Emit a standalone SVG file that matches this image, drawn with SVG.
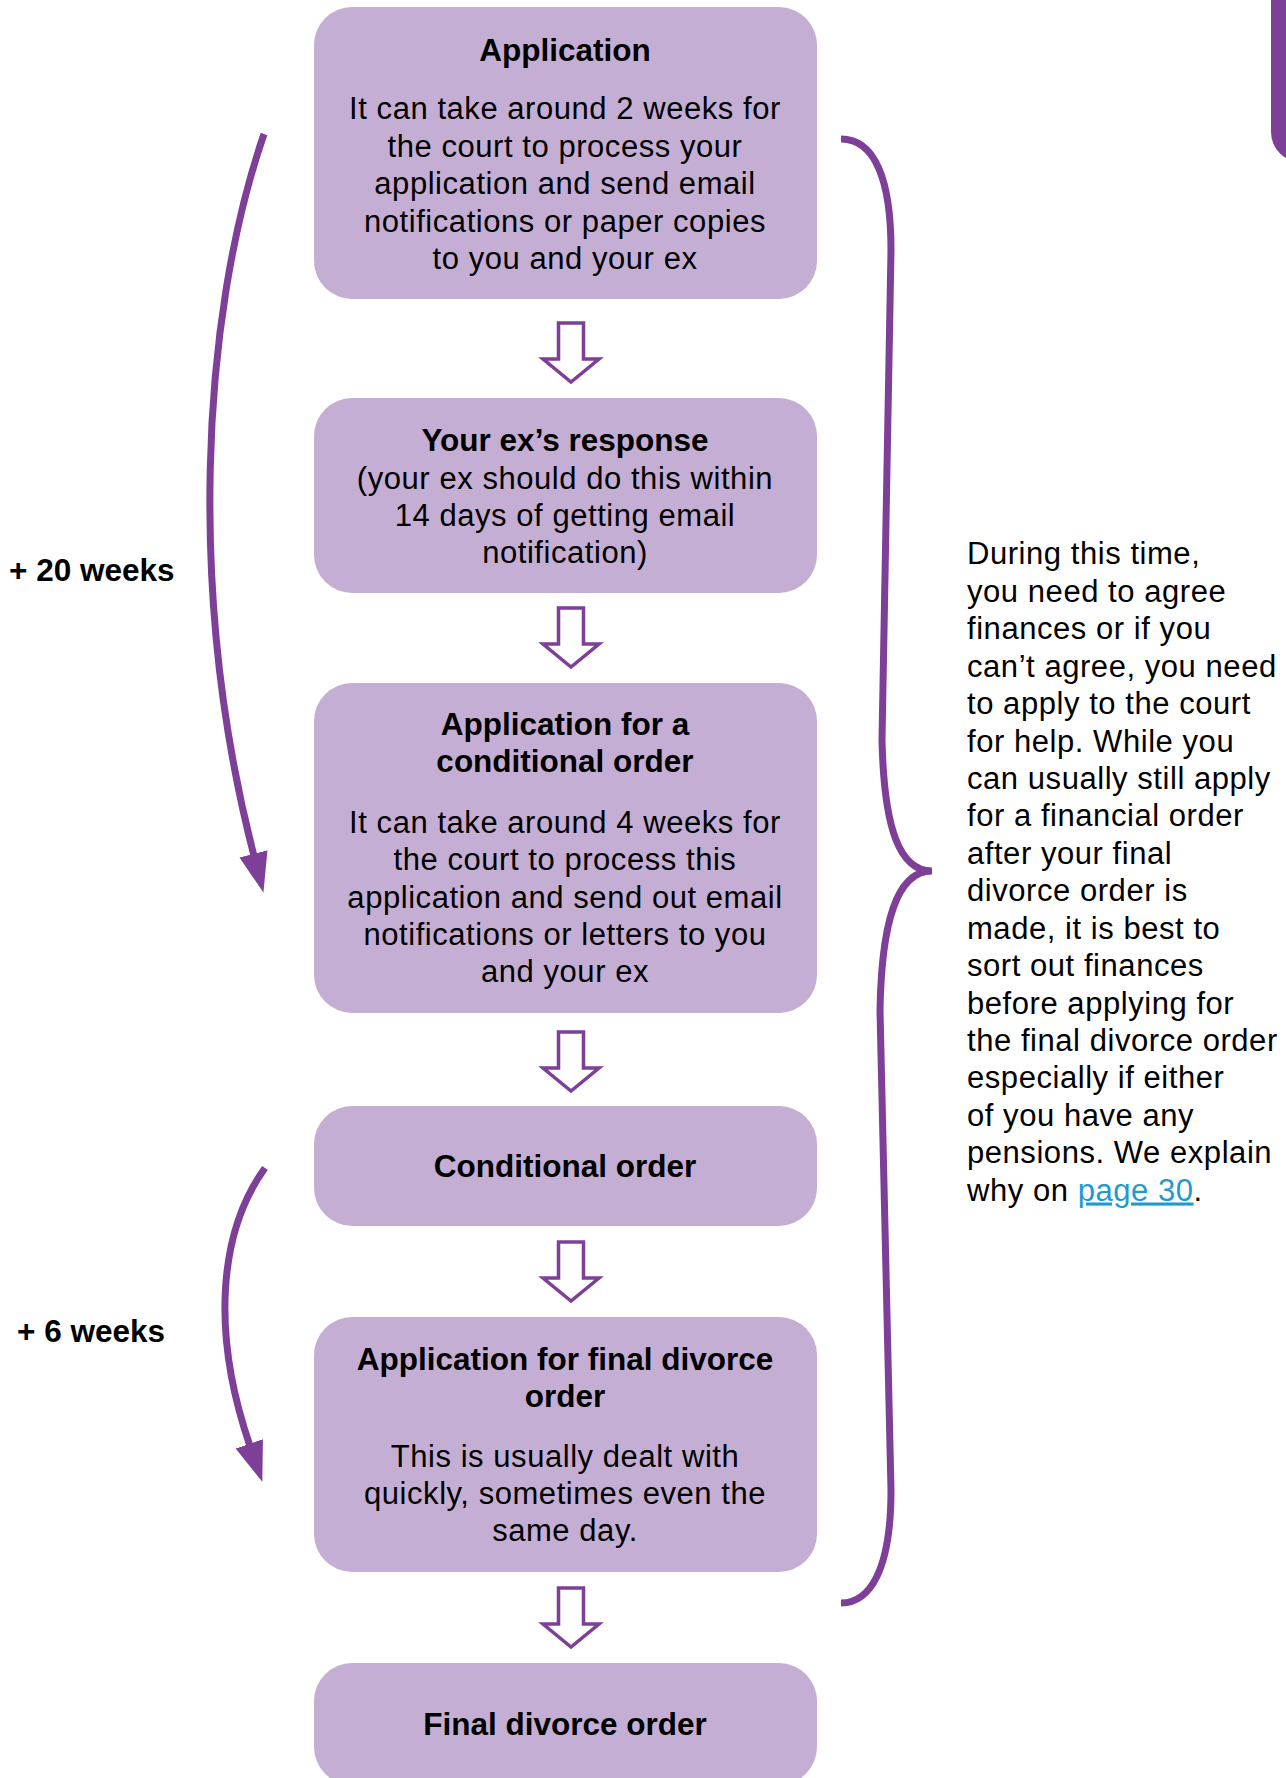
<svg xmlns="http://www.w3.org/2000/svg" width="1286" height="1778" viewBox="0 0 1286 1778">
<style>
.box{fill:#C5AED4;}
.t{font-family:"Liberation Sans",Arial,sans-serif;font-size:31.5px;font-weight:bold;fill:#000;text-anchor:middle;}
.b{font-family:"Liberation Sans",Arial,sans-serif;font-size:31px;letter-spacing:0.55px;fill:#000;text-anchor:middle;}
.side{font-family:"Liberation Sans",Arial,sans-serif;font-size:31px;letter-spacing:0.55px;fill:#000;}
.lbl{font-family:"Liberation Sans",Arial,sans-serif;font-size:31.5px;font-weight:bold;fill:#000;}
.hollow{fill:#fff;stroke:#7D3F98;stroke-width:3.5;stroke-linejoin:miter;}
.curve{fill:none;stroke:#7D3F98;stroke-width:7;}
.link{fill:#1E9AD0;text-decoration:underline;}
</style>
<defs>
<marker id="ah" markerUnits="userSpaceOnUse" markerWidth="40" markerHeight="30" viewBox="0 0 36 26" refX="2" refY="13" orient="auto">
<path d="M0,0 L36,13 L0,26 Z" fill="#7D3F98"/>
</marker>
<path id="down" d="M-12.5,0 H12.5 V36 H28 L0,59 L-28,36 H-12.5 Z"/>
</defs>
<rect width="1286" height="1778" fill="#fff"/>
<rect x="1271" y="-60" width="100" height="222" rx="30" fill="#7D3F98"/>

<g id="connectors">
<use href="#down" class="hollow" transform="translate(571,323)"/>
<use href="#down" class="hollow" transform="translate(571,608)"/>
<use href="#down" class="hollow" transform="translate(571,1032)"/>
<use href="#down" class="hollow" transform="translate(571,1242)"/>
<use href="#down" class="hollow" transform="translate(571,1588)"/>
<path class="curve" d="M264,134 C200,320 188,600 254,856" marker-end="url(#ah)"/>
<path class="curve" d="M265,1168 C220,1230 210,1330 250,1446" marker-end="url(#ah)"/>
<path class="curve" d="M841,139 C875,139 891,180 891,250 L882,740 C884,830 900,871 932,871 C905,871 882,900 880,1010 L891,1490 C891,1570 870,1603 841,1603"/>
</g>

<g id="label-20weeks"><text class="lbl" x="9" y="581">+ 20 weeks</text></g>
<g id="label-6weeks"><text class="lbl" x="17" y="1342">+ 6 weeks</text></g>

<g id="node-application">
<rect class="box" x="314" y="7" width="503" height="292" rx="38"/>
<text class="t" x="565" y="61">Application</text>
<text class="b" x="565" y="119">It can take around 2 weeks for</text>
<text class="b" x="565" y="156.5">the court to process your</text>
<text class="b" x="565" y="194">application and send email</text>
<text class="b" x="565" y="231.5">notifications or paper copies</text>
<text class="b" x="565" y="269">to you and your ex</text>
</g>

<g id="node-response">
<rect class="box" x="314" y="398" width="503" height="195" rx="38"/>
<text class="t" x="565" y="451">Your ex’s response</text>
<text class="b" x="565" y="489">(your ex should do this within</text>
<text class="b" x="565" y="526">14 days of getting email</text>
<text class="b" x="565" y="563">notification)</text>
</g>

<g id="node-app-conditional">
<rect class="box" x="314" y="683" width="503" height="330" rx="38"/>
<text class="t" x="565" y="735">Application for a</text>
<text class="t" x="565" y="772">conditional order</text>
<text class="b" x="565" y="833">It can take around 4 weeks for</text>
<text class="b" x="565" y="870">the court to process this</text>
<text class="b" x="565" y="907.5">application and send out email</text>
<text class="b" x="565" y="945">notifications or letters to you</text>
<text class="b" x="565" y="982">and your ex</text>
</g>

<g id="node-conditional">
<rect class="box" x="314" y="1106" width="503" height="120" rx="38"/>
<text class="t" x="565" y="1177">Conditional order</text>
</g>

<g id="node-app-final">
<rect class="box" x="314" y="1317" width="503" height="255" rx="38"/>
<text class="t" x="565" y="1370">Application for final divorce</text>
<text class="t" x="565" y="1407">order</text>
<text class="b" x="565" y="1467">This is usually dealt with</text>
<text class="b" x="565" y="1504">quickly, sometimes even the</text>
<text class="b" x="565" y="1541">same day.</text>
</g>

<g id="node-final">
<rect class="box" x="314" y="1663" width="503" height="122" rx="38"/>
<text class="t" x="565" y="1735">Final divorce order</text>
</g>

<g id="note">
<text class="side" x="967" y="564">During this time,</text>
<text class="side" x="967" y="601.5">you need to agree</text>
<text class="side" x="967" y="639">finances or if you</text>
<text class="side" x="967" y="676.5">can’t agree, you need</text>
<text class="side" x="967" y="714">to apply to the court</text>
<text class="side" x="967" y="751.5">for help. While you</text>
<text class="side" x="967" y="789">can usually still apply</text>
<text class="side" x="967" y="826">for a financial order</text>
<text class="side" x="967" y="863.5">after your final</text>
<text class="side" x="967" y="901">divorce order is</text>
<text class="side" x="967" y="938.5">made, it is best to</text>
<text class="side" x="967" y="976">sort out finances</text>
<text class="side" x="967" y="1013.5">before applying for</text>
<text class="side" x="967" y="1051">the final divorce order</text>
<text class="side" x="967" y="1088">especially if either</text>
<text class="side" x="967" y="1125.5">of you have any</text>
<text class="side" x="967" y="1163">pensions. We explain</text>
<text class="side" x="967" y="1200.5">why on <tspan class="link">page 30</tspan>.</text>
</g>
</svg>
